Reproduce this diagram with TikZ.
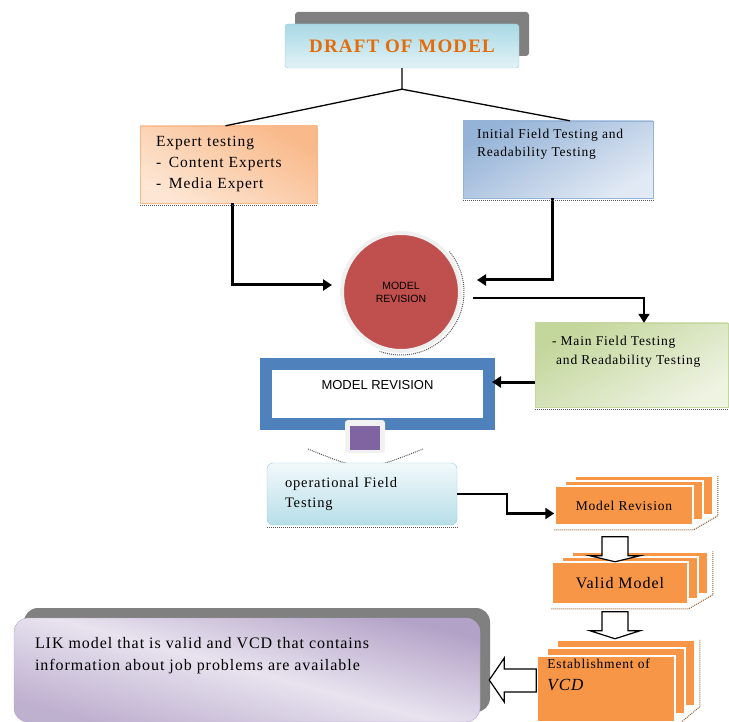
\documentclass[tikz,border=0pt]{standalone}
\usepackage{fontspec}
\setmainfont[LetterSpace=6]{Liberation Serif}
\setsansfont{Liberation Sans}
\usetikzlibrary{arrows.meta,positioning,calc,shadows}
\definecolor{drdark}{HTML}{A9D9E5}
\definecolor{drlight}{HTML}{E2F2F6}
\definecolor{dredge}{HTML}{93CDDD}
\definecolor{drorange}{HTML}{E46C0A}
\definecolor{expdark}{HTML}{F9B98A}
\definecolor{explight}{HTML}{FDE6D3}
\definecolor{inidark}{HTML}{95B3D7}
\definecolor{inilight}{HTML}{E1E9F4}
\definecolor{grndark}{HTML}{C3D69B}
\definecolor{grnlight}{HTML}{EEF3E2}
\definecolor{revred}{HTML}{C0504D}
\definecolor{frameblue}{HTML}{4F81BD}
\definecolor{screenpurple}{HTML}{8064A2}
\definecolor{oplight}{HTML}{F2F9FB}
\definecolor{opdark}{HTML}{B7DEE8}
\definecolor{orng}{HTML}{F79646}
\definecolor{likdark}{HTML}{B3A2C7}
\definecolor{liklight}{HTML}{E8E3EF}
\tikzset{
  draftbox/.style={draw=dredge, top color=drdark, bottom color=drlight, rounded corners=3pt, minimum width=234pt, minimum height=44pt, text=drorange, font=\fontsize{19}{22}\selectfont\bfseries, general shadow={shadow xshift=10pt, shadow yshift=12pt, fill=black!50}},
  expbox/.style={draw=expdark, top color=expdark, bottom color=explight, shading angle=-30, minimum width=177pt, minimum height=77pt, text width=145pt, inner xsep=16pt, align=left, font=\fontsize{15.5}{21}\selectfont},
  inibox/.style={draw=inidark, top color=inidark, bottom color=inilight, shading angle=30, minimum width=190pt, minimum height=77pt},
  grnbox/.style={draw=grndark, top color=grndark, bottom color=grnlight, shading angle=30, minimum width=193pt, minimum height=84pt},
  opbox/.style={draw=dredge, top color=oplight, bottom color=opdark, rounded corners=6pt, minimum width=190pt, minimum height=62pt, text width=154pt, inner xsep=18pt, align=left, font=\fontsize{14.5}{20}\selectfont},
  revcirc/.style={circle, fill=revred, draw=gray!12, line width=4pt, minimum size=118pt, inner sep=0pt, align=center, font=\sffamily\fontsize{10.5}{13}\selectfont},
  frame/.style={draw=frameblue, line width=12pt, fill=white, minimum width=223pt, minimum height=60pt},
  stack/.style={fill=orng, draw=white, line width=1.5pt, double copy shadow={shadow xshift=10pt, shadow yshift=#1}},
  stack/.default=5pt,
  likbox/.style={draw=likdark, top color=likdark, bottom color=likdark!85, middle color=liklight, shading angle=-15, rounded corners=14pt, minimum width=466pt, minimum height=104pt, general shadow={shadow xshift=10pt, shadow yshift=10pt, fill=black!50}},
  txt/.style={anchor=north west, inner sep=0pt, align=left},
  arr/.style={-{Triangle[length=9pt,width=11pt]}, line width=3pt, black},
  branch/.style={line width=1.3pt, black},
  hollow/.style={draw=black, fill=white, line width=1.2pt},
  dotedge/.style={densely dotted, line width=1pt, gray!70!black},
  stackdots/.style={densely dotted, line width=1pt, orng!60!black},
}
\begin{document}
\begin{tikzpicture}[x=1pt,y=-1pt]
  \useasboundingbox (0,0) rectangle (729,722);
  \node[draftbox] (draft) at (402,46) {DRAFT OF MODEL};
  \node[expbox] (exp) at (228.5,164.5) {Expert testing\\-\enspace Content Experts\\-\enspace Media Expert};
  \node[inibox] (ini) at (558,159.5) {};
  \node[txt, font=\fontsize{13.5}{18}\selectfont] at ([xshift=14pt,yshift=-8pt]ini.north west) (initxt) {Initial Field Testing and\\Readability Testing};
  \draw[branch] (draft.south) -- ++(0,21) coordinate (split) -- ([xshift=-3pt]exp.north);
  \draw[branch] (split) -- ([xshift=12pt]ini.north);
  \node[revcirc] (rev) at (401,292) {MODEL\\REVISION};
  \draw[dotedge] (rev.center) ++(-40:63) arc[start angle=-40, end angle=110, radius=63];
  \draw[arr, shorten >=8pt] ([xshift=4pt]exp.south) |- ([yshift=7pt]rev.west);
  \draw[arr, shorten >=15pt] ([xshift=-5.5pt]ini.south) |- ([yshift=12pt]rev.east);
  \node[grnbox] (grn) at (631.5,365) {};
  \node[txt, font=\fontsize{13.5}{19}\selectfont] at ([xshift=17pt,yshift=-13pt]grn.north west) (grntxt) {- Main Field Testing\\\ and Readability Testing};
  \draw[arr, line width=2pt, shorten <=11pt] ([yshift=-6pt]rev.east) -| ([xshift=12.5pt]grn.north);
  \node[frame] (mr) at (377.5,394) {};
  \node[font=\sffamily\fontsize{13}{15}\selectfont] at ([yshift=9pt]mr.center) (mrtxt) {MODEL REVISION};
  \draw[arr, shorten >=-3pt] ([yshift=-17pt]grn.west) -- ([yshift=-17pt]grn.west -| mr.east);
  \node[fill=gray!10, rounded corners=3pt, minimum width=40pt, minimum height=33pt] (stand) at (365,436.5) {};
  \node[fill=screenpurple, minimum width=30pt, minimum height=24pt] (screen) at (365,438) {};
  \draw[dotedge] (308,449) .. controls (365,472) .. (423,449);
  \node[opbox] (op) at (362,494) {operational Field\\Testing};
  \foreach \n in {exp,ini,grn,op} \draw[dotedge] ([yshift=-2pt]\n.south west) -- ([yshift=-2pt]\n.south east);
  \node[stack, minimum width=138pt, minimum height=39pt, font=\fontsize{13.5}{16}\selectfont] at (624,505.5) (mrev) {Model Revision};
  \draw[arr, line width=2.5pt] (op.east) -- ++(50,0) |- ([yshift=-8pt]mrev.west);
  \node[stack, minimum width=136pt, minimum height=42pt, font=\fontsize{16}{18}\selectfont] at (620,583) (val) {Valid Model};
  \node[stack=8pt, minimum width=138pt, minimum height=66pt] at (606,689) (est) {};
  \node[txt, font=\fontsize{13.5}{22}\selectfont] at ([xshift=11pt,yshift=-4pt]est.north west) (esttxt) {Establishment of\\{\fontsize{17}{20}\selectfont\itshape VCD}};
  \foreach \n/\dy in {mrev/10pt, val/10pt, est/16pt}
    \draw[stackdots] ([yshift=-4pt]\n.south west) -- ([yshift=-4pt]\n.south east) -- ([xshift=24pt,yshift=\dy]\n.south east) -- ([xshift=24pt,yshift=\dy]\n.north east);
  \draw[hollow] ([xshift=-22pt,yshift=-11pt]mrev.south) -- ++(26,0) -- ++(0,19) -- ++(12,0) -- ++(-25,6) -- ++(-25,-6) -- ++(12,0) -- cycle;
  \draw[hollow] ([xshift=-18pt,yshift=-7pt]val.south) -- ++(26,0) -- ++(0,19) -- ++(12,0) -- ++(-25,8) -- ++(-25,-8) -- ++(12,0) -- cycle;
  \node[likbox] (lik) at (247,670) {};
  \node[txt, font=\fontsize{16}{22}\selectfont] at ([xshift=21pt,yshift=-19pt]lik.north west) (liktxt) {LIK model that is valid and VCD that contains\\information about job problems are available};
  \draw[hollow] ([yshift=20pt]est.west) -- ++(-32,0) -- ++(0,-11) -- ++(-15,22) -- ++(15,22) -- ++(0,-10) -- ++(32,0) -- cycle;
\end{tikzpicture}
\end{document}
